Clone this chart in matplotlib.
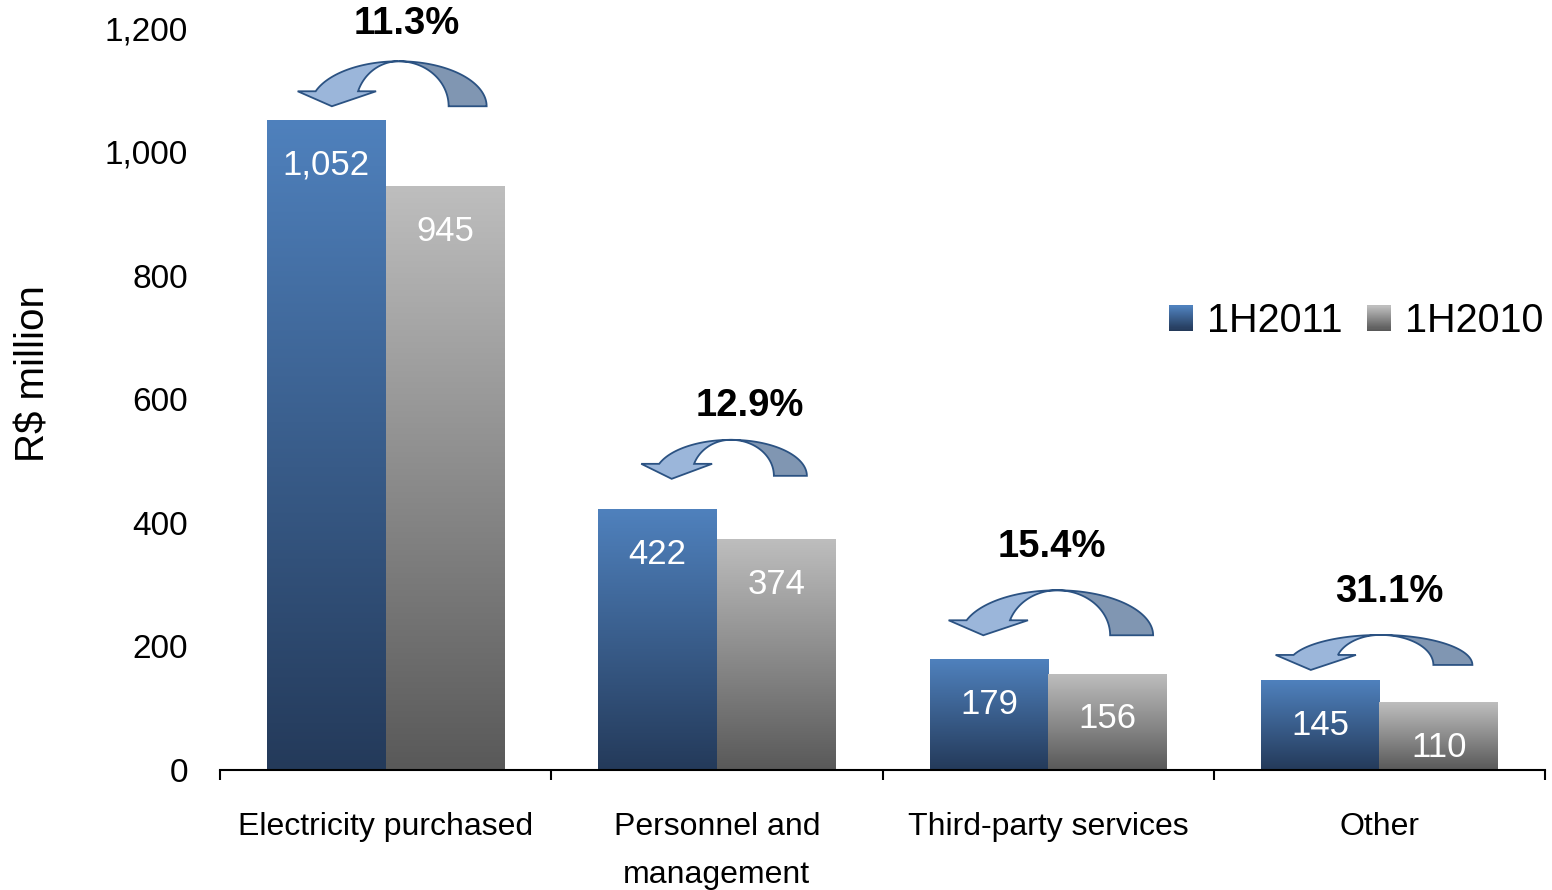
import numpy as np
import matplotlib
matplotlib.use("Agg")
import matplotlib.pyplot as plt
from matplotlib.colors import LinearSegmentedColormap, to_rgb
from matplotlib.patches import Rectangle, Patch, PathPatch
from matplotlib.path import Path
from matplotlib.legend_handler import HandlerBase
from matplotlib.ticker import StrMethodFormatter
import matplotlib.transforms as mtransforms

# ---------------- data ----------------
categories = ["Electricity purchased", "Personnel and\nmanagement", "Third-party services", "Other"]
series_names = ["1H2011", "1H2010"]
values_2011 = [1052, 422, 179, 145]
values_2010 = [945, 374, 156, 110]
growth_labels = ["11.3%", "12.9%", "15.4%", "31.1%"]
y_ticks = [0, 200, 400, 600, 800, 1000, 1200]

# ---------------- style ----------------
plt.rcParams['font.family'] = ['Liberation Sans', 'DejaVu Sans']
BLUE_TOP, BLUE_BOT = "#4F81BD", "#243A5A"
GRAY_TOP, GRAY_BOT = "#BEBEBE", "#595959"
ARROW_LIGHT, ARROW_DARK, ARROW_EDGE = "#9BB6DA", "#8096B2", "#2B5282"

# arrow layout (pixel geometry): apex x offset from category centre, base value,
# vertical radius, outer radius, left inner radius, right inner radius,
# label offset x, label offset y
arrow_layout = [
    dict(dx=13, base=1074, ry=45, rxo=88, rxl=43, rxr=50, lx=8, ly=37),
    dict(dx=14, base=476, ry=36, rxo=76, rxl=39, rxr=43, lx=19, ly=34),
    dict(dx=9, base=218, ry=45, rxo=96, rxl=50, rxr=53, lx=-5, ly=43),
    dict(dx=1, base=170, ry=30, rxo=92, rxl=45, rxr=53, lx=9, ly=43),
]

W, H = 1552, 890
fig = plt.figure(figsize=(W / 100, H / 100), dpi=100)
ax = fig.add_axes([220 / W, 120 / H, 1325 / W, 741.6 / H])

x = np.arange(len(categories))
bw = 0.358


def grad_cmap(bot, top):
    return LinearSegmentedColormap.from_list("g", [bot, top])


grad = np.linspace(0, 1, 256).reshape(-1, 1)
for vals, off, (top, bot) in [(values_2011, -bw / 2, (BLUE_TOP, BLUE_BOT)),
                              (values_2010, bw / 2, (GRAY_TOP, GRAY_BOT))]:
    bars = ax.bar(x + off, vals, width=bw, color="none", edgecolor="none", zorder=2)
    for b, v in zip(bars, vals):
        x0 = b.get_x()
        im = ax.imshow(grad, extent=[x0, x0 + bw, 0, v], origin="lower", aspect="auto",
                       cmap=grad_cmap(bot, top), zorder=2, interpolation="bilinear")
        im.set_clip_path(b)
        ax.annotate(f"{v:,}", xy=(b.get_x() + bw / 2, v), xytext=(0, -32.5),
                    textcoords="offset points", ha="center", va="center",
                    color="white", fontsize=25, zorder=5)

ax.set_xlim(-0.5, len(categories) - 0.5)
ax.set_ylim(0, 1200)
ax.set_yticks(y_ticks)
ax.yaxis.set_major_formatter(StrMethodFormatter("{x:,.0f}"))
ax.tick_params(axis="y", length=0, pad=23, labelsize=24)

# x axis: ticks at category boundaries, labels at centres
ax.set_xticks(np.arange(-0.5, len(categories)))
ax.set_xticklabels([])
ax.set_xticks(x, minor=True)
ax.set_xticklabels(categories, minor=True, fontsize=23, linespacing=1.78)
ax.tick_params(axis="x", which="major", direction="out", length=7, width=1.5, color="black")
ax.tick_params(axis="x", which="minor", length=0, pad=30)
for s in ["top", "right", "left"]:
    ax.spines[s].set_visible(False)
ax.spines["bottom"].set_linewidth(1.5)
ax.spines["bottom"].set_zorder(6)

ax.set_ylabel("R\\$ million", fontsize=29)
ax.yaxis.set_label_coords(-0.1405, 0.535)
ax.yaxis.label.set_va("center")


# ---------------- curved arrows ----------------
def arrow_paths(ry, rxo, rxl, rxr):
    hb = ry / 3.0
    th_end = np.pi - np.arcsin(hb / ry)
    th = np.linspace(np.pi / 2, th_end, 60)
    outer_l = np.c_[rxo * np.cos(th), ry * np.sin(th)]
    inner_l = np.c_[rxl * np.cos(th[::-1]), ry * np.sin(th[::-1])]
    xo, xi = outer_l[-1, 0], inner_l[0, 0]
    ext, hh = 18, 15
    head = np.array([[xo - ext, hb], [(xo + xi) / 2 - 5, hb - hh], [xi + ext, hb]])
    light = np.vstack([outer_l, head, inner_l])
    th2 = np.linspace(np.pi / 2, 0, 60)
    outer_r = np.c_[rxo * np.cos(th2), ry * np.sin(th2)]
    inner_r = np.c_[rxr * np.cos(th2[::-1]), ry * np.sin(th2[::-1])]
    dark = np.vstack([outer_r, inner_r])
    return light, dark


fig.canvas.draw()
for i, lay in enumerate(arrow_layout):
    cx = x[i]
    base_disp = ax.transData.transform((cx, lay["base"]))
    ox, oy = base_disp[0] + lay["dx"], base_disp[1]
    tr = mtransforms.Affine2D().translate(ox, oy)
    light, dark = arrow_paths(lay["ry"], lay["rxo"], lay["rxl"], lay["rxr"])
    for pts, col in [(light, ARROW_LIGHT), (dark, ARROW_DARK)]:
        p = Path(np.vstack([pts, pts[:1]]), closed=True)
        patch = PathPatch(p, facecolor=col, edgecolor=ARROW_EDGE, lw=1.3,
                          transform=tr, zorder=7, joinstyle="miter")
        patch.set_clip_on(False)
        fig.add_artist(patch)
    tx, ty = ox + lay["lx"], oy + lay["ry"] + lay["ly"]
    fx, fy = fig.transFigure.inverted().transform((tx, ty))
    fig.text(fx, fy, growth_labels[i], ha="center", va="center",
             fontsize=27.5, fontweight="bold", color="black")


# ---------------- legend with gradient swatches ----------------
class GradientHandler(HandlerBase):
    def __init__(self, top, bot, n=24):
        super().__init__()
        self.top, self.bot, self.n = np.array(to_rgb(top)), np.array(to_rgb(bot)), n

    def create_artists(self, legend, orig_handle, xdescent, ydescent, width, height, fontsize, trans):
        arts = []
        for k in range(self.n):
            f = k / (self.n - 1)
            c = self.bot * (1 - f) + self.top * f
            r = Rectangle((-xdescent, -ydescent + k * height / self.n), width, height / self.n * 1.05,
                          facecolor=c, edgecolor="none", transform=trans)
            arts.append(r)
        return arts


h1, h2 = Patch(label=series_names[0]), Patch(label=series_names[1])
fig.legend(handles=[h1, h2], labels=series_names, ncol=2, frameon=False,
           loc="center left", bbox_to_anchor=(1169 / W, 1 - 321 / H),
           fontsize=28.5, handlelength=0.6, handleheight=0.6, handletextpad=0.36,
           columnspacing=0.62, borderpad=0, borderaxespad=0,
           handler_map={h1: GradientHandler(BLUE_TOP, BLUE_BOT),
                        h2: GradientHandler(GRAY_TOP, GRAY_BOT)})

fig.savefig("out.png", dpi=100)
